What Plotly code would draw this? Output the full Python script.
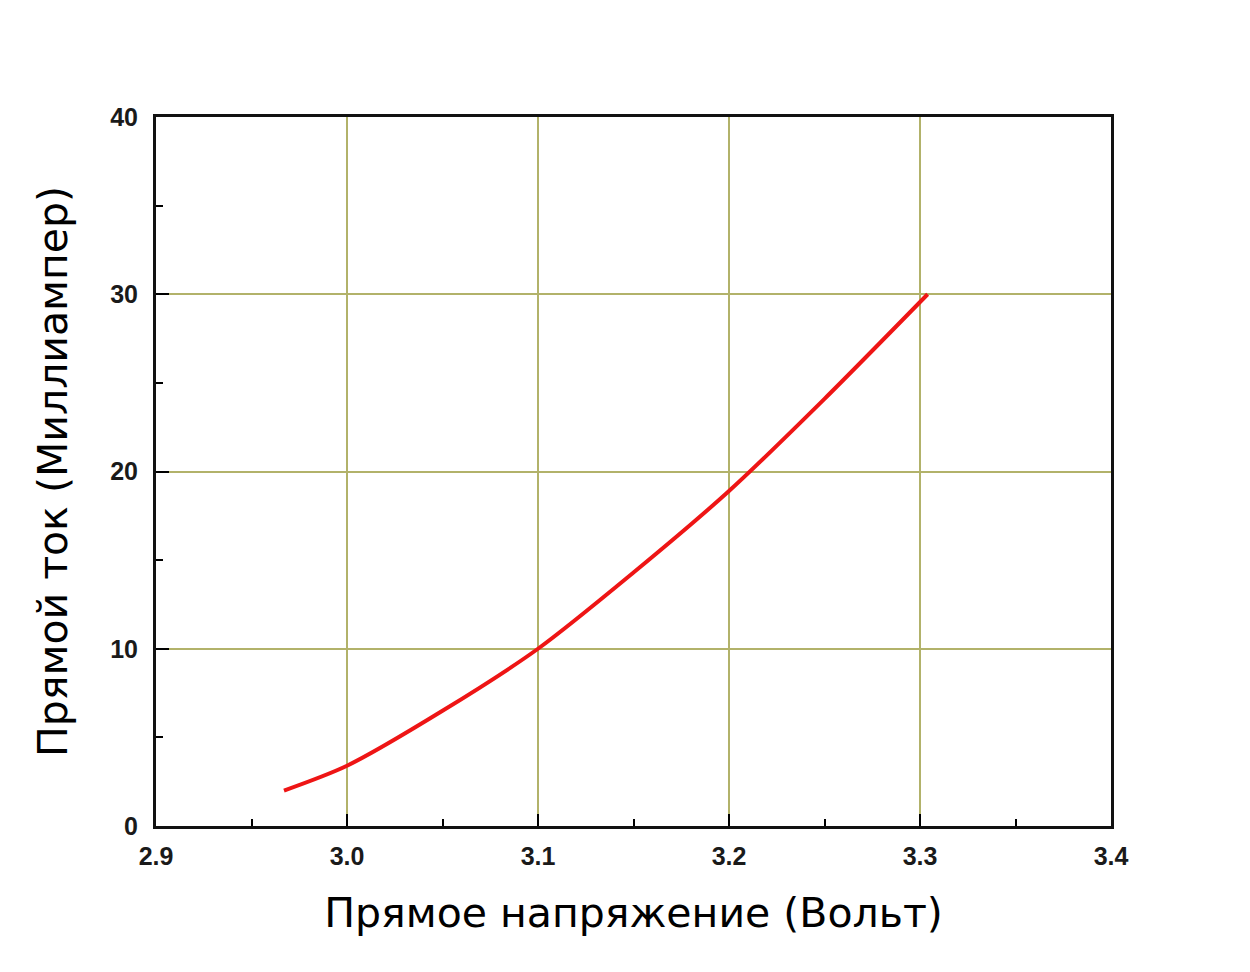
import plotly.graph_objects as go

# forward voltage (V) vs forward current (mA)
voltage = [2.967, 3.0, 3.05, 3.1, 3.15, 3.2, 3.25, 3.304]
current = [2.0, 3.4, 6.5, 10.0, 14.3, 18.9, 24.1, 30.0]

x_ticks = [2.9, 3.0, 3.1, 3.2, 3.3, 3.4]
y_ticks = [0, 10, 20, 30, 40]

grid_color = "#b2b26a"
tick_font = dict(family="Liberation Sans", size=25, color="#1a1a1a")
title_font = dict(family="DejaVu Sans", size=41, color="black")

curve = go.Scatter(
    x=voltage, y=current,
    mode="lines",
    line=dict(color="#ee1515", width=4, shape="spline", smoothing=0.8),
    showlegend=False,
)

fig = go.Figure(data=[curve])

fig.update_layout(
    width=1250, height=972,
    paper_bgcolor="white",
    plot_bgcolor="white",
    margin=dict(l=148, r=147, t=109, b=154),
)

fig.update_xaxes(
    range=[2.9, 3.4],
    tickvals=x_ticks,
    ticktext=[f"<b>{v:.1f}</b>" for v in x_ticks],
    tickfont=tick_font,
    ticklabelstandoff=6,
    ticks="inside", ticklen=12, tickwidth=2, tickcolor="black",
    minor=dict(ticks="inside", dtick=0.05, tick0=2.9, ticklen=7, tickwidth=2,
               tickcolor="black", showgrid=False),
    showgrid=True, gridcolor=grid_color, gridwidth=1.5,
    showline=True, linewidth=3, linecolor="#111111", mirror=True,
    zeroline=False,
    title=dict(text="Прямое напряжение (Вольт)", font=title_font, standoff=30),
)

fig.update_yaxes(
    range=[0, 40],
    tickvals=y_ticks,
    ticktext=[f"<b>{v}</b>" for v in y_ticks],
    tickfont=tick_font,
    ticklabelstandoff=10,
    ticks="inside", ticklen=13, tickwidth=2, tickcolor="black",
    minor=dict(ticks="inside", dtick=5, tick0=0, ticklen=7, tickwidth=2,
               tickcolor="black", showgrid=False),
    showgrid=True, gridcolor=grid_color, gridwidth=1.5,
    showline=True, linewidth=3, linecolor="#111111", mirror=True,
    zeroline=False,
    title=dict(text="Прямой ток (Миллиампер)", font=title_font, standoff=30),
)

fig.write_html("out.html")
